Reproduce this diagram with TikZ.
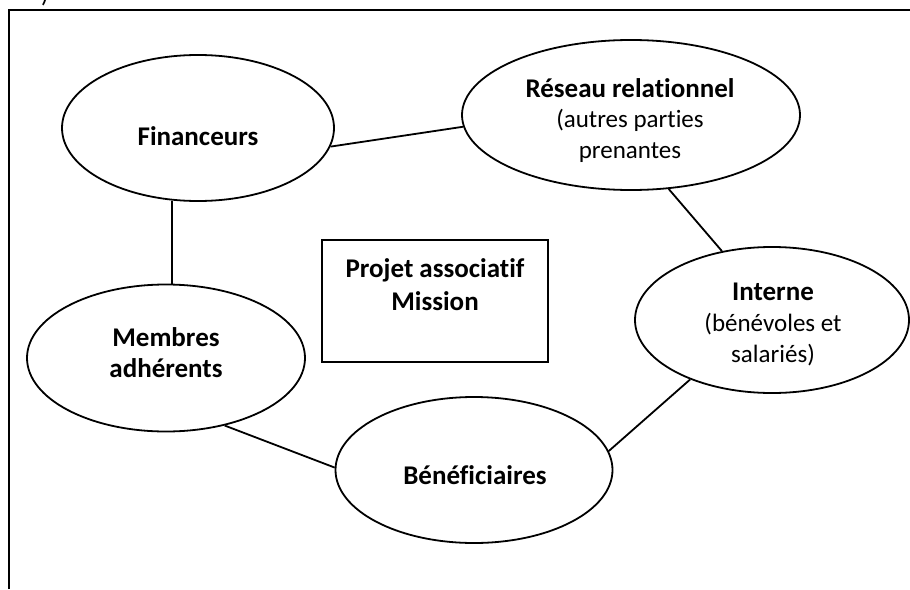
\documentclass[tikz,border=0pt]{standalone}
\usepackage{fontspec}
\setmainfont{Carlito}[Ligatures=NoCommon]
\usetikzlibrary{shapes.geometric}
\begin{document}
\begin{tikzpicture}[x=1pt,y=-1pt,
  oval/.style={draw, ellipse, line width=1.8pt, inner sep=0pt},
  txt/.style={inner sep=0pt, align=center, font=\fontsize{27}{31}\selectfont},
  link/.style={line width=1.8pt},
  boxnode/.style={draw, rectangle, line width=1.8pt, inner sep=0pt}]
\useasboundingbox (0,0) rectangle (910,589);
\draw[line width=2.2pt] (9,589) -- (9,10) -- (912,10);
\node[anchor=south, inner sep=0pt, font=\fontsize{25}{30}\selectfont] (paren) at (45,6) {)};
% shapes
\node[oval, minimum width=272pt, minimum height=146pt] (fin) at (198,128) {};
\node[oval, minimum width=338pt, minimum height=150pt] (res) at (631,115) {};
\node[oval, minimum width=274pt, minimum height=146pt] (int) at (772,320) {};
\node[oval, minimum width=278pt, minimum height=147pt] (mem) at (166,358) {};
\node[oval, minimum width=277pt, minimum height=146pt] (ben) at (474,470) {};
\node[boxnode, minimum width=226pt, minimum height=122pt] (proj) at (435,301) {};
% texts
\node[txt] (fint) at (198,136) {\textbf{Financeurs}};
\node[txt] (rest) at (630,121) {\textbf{Réseau relationnel}\\[-1pt]{\fontsize{25}{30}\selectfont(autres parties}\\{\fontsize{25}{30}\selectfont prenantes}};
\node[txt] (intt) at (773,324) {\textbf{Interne}\\{\fontsize{25}{30}\selectfont(bénévoles et}\\{\fontsize{25}{30}\selectfont salariés)}};
\node[txt] (memt) at (166,353) {\textbf{Membres}\\\textbf{adhérents}};
\node[txt] (bent) at (475,475) {\textbf{Bénéficiaires}};
\node[txt, font=\fontsize{27}{33}\selectfont\bfseries] (projt) at (435,285) {Projet associatif\\Mission};
% connectors
\draw[link] (fin.-8) -- (res.184);
\draw[link] (fin.-110) -- (fin.-110 |- mem.north);
\draw[link] (res.-63) -- (int.126);
\draw[link] (int.-144) -- (ben.8);
\draw[link] (mem.-49) -- (ben.179);
\end{tikzpicture}
\end{document}
